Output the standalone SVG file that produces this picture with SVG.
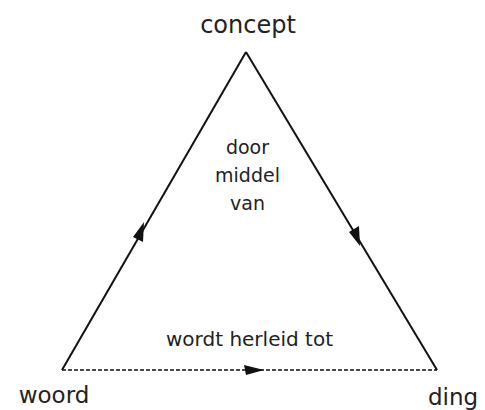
<svg xmlns="http://www.w3.org/2000/svg" width="485" height="410" viewBox="0 0 485 410">
<style>
text{font-family:"DejaVu Sans","Open Sans",sans-serif;fill:#222;}
.l{stroke:#111;stroke-width:2;fill:none;}
.d{stroke:#111;stroke-width:1.5;stroke-dasharray:4,2;fill:none;}
.a{fill:#111;}
</style>
<rect width="485" height="410" fill="#fff"/>
<g id="connectors">
<path class="l" d="M62,370 L246,52"/>
<path class="l" d="M246,52 L437,370"/>
<path class="d" d="M62,370 L437,370"/>
<polygon class="a" points="144,222 133,237 143,242"/>
<polygon class="a" points="360,246 349,232 359,226"/>
<polygon class="a" points="264,370 244,365 246,375"/>
</g>
<g id="concept"><text x="248" y="33" font-size="24" text-anchor="middle">concept</text></g>
<g id="label"><text x="247.5" y="154" font-size="19" text-anchor="middle">door</text><text x="247.5" y="182" font-size="19" text-anchor="middle">middel</text><text x="247.5" y="210" font-size="19" text-anchor="middle">van</text></g>
<g id="relation"><text x="249.5" y="346" font-size="20" text-anchor="middle">wordt herleid tot</text></g>
<g id="woord"><text x="54" y="403" font-size="23" text-anchor="middle">woord</text></g>
<g id="ding"><text x="453" y="405" font-size="23" text-anchor="middle">ding</text></g>
</svg>
